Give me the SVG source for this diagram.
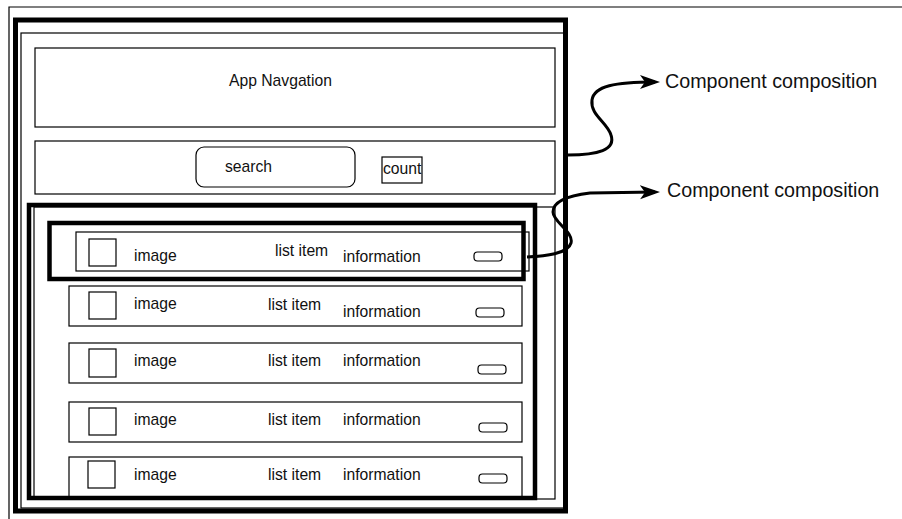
<svg xmlns="http://www.w3.org/2000/svg" width="902" height="519" viewBox="0 0 902 519">
<defs>
<style>
text{font-family:"Liberation Sans",Arial,Helvetica,sans-serif;fill:#111;}
.t{font-size:15.7px;}
.big{font-size:19.7px;}
.thin{fill:#fff;stroke:#000;stroke-width:1.2;}
.thinnf{fill:none;stroke:#000;stroke-width:1.2;}
.thick{fill:none;stroke:#000;stroke-width:5;}
.thick4{fill:none;stroke:#000;stroke-width:4.5;}
.sq{fill:#fff;stroke:#000;stroke-width:1.2;}
.btn{fill:#fff;stroke:#000;stroke-width:1.2;}
.conn{fill:none;stroke:#000;stroke-width:3;}
</style>
<marker id="arr" markerUnits="userSpaceOnUse" markerWidth="22" markerHeight="16" refX="15" refY="8" orient="auto">
<path d="M0,1 L20,8 L0,15 L5,8 Z" fill="#000"/>
</marker>
</defs>
<rect width="902" height="519" fill="#fff"/>
<g id="frame">
<path d="M9,519 L9,7 L902,7" class="thinnf"/>
<rect x="21" y="33" width="543" height="475" class="thinnf"/>
</g>
<g id="app-nav">
<rect x="35" y="48" width="520" height="79" class="thin"/>
<text x="229" y="86" class="t">App Navgation</text>
</g>
<g id="search-bar">
<rect x="35" y="141" width="520" height="53" class="thin"/>
<rect x="196" y="147" width="159" height="40" rx="8" class="thin"/>
<text x="225" y="172" class="t">search</text>
<rect x="382" y="157" width="40" height="26" class="thin"/>
<text x="383" y="174" class="t">count</text>
</g>
<g id="list-container">
<rect x="34" y="207" width="521" height="292" class="thinnf"/>
</g>
<g id="item-1">
<rect x="76" y="232" width="453" height="39" class="thin"/>
<rect x="89" y="239" width="27" height="27" class="sq"/>
<text x="134" y="261" class="t">image</text>
<text x="275" y="256" class="t">list item</text>
<text x="343" y="262" class="t">information</text>
<rect x="474" y="252" width="28" height="9" rx="3.5" class="btn"/>
</g>
<g id="item-2">
<rect x="69" y="286" width="453" height="40" class="thin"/>
<rect x="89" y="292" width="27" height="27" class="sq"/>
<text x="134" y="309" class="t">image</text>
<text x="268" y="310" class="t">list item</text>
<text x="343" y="317" class="t">information</text>
<rect x="476" y="308" width="28" height="9" rx="3.5" class="btn"/>
</g>
<g id="item-3">
<rect x="69" y="343" width="453" height="40" class="thin"/>
<rect x="89" y="349" width="27" height="28" class="sq"/>
<text x="134" y="366" class="t">image</text>
<text x="268" y="366" class="t">list item</text>
<text x="343" y="366" class="t">information</text>
<rect x="478" y="365" width="28" height="9" rx="3.5" class="btn"/>
</g>
<g id="item-4">
<rect x="69" y="402" width="453" height="40" class="thin"/>
<rect x="89" y="408" width="27" height="27" class="sq"/>
<text x="134" y="425" class="t">image</text>
<text x="268" y="425" class="t">list item</text>
<text x="343" y="425" class="t">information</text>
<rect x="479" y="423" width="28" height="9" rx="3.5" class="btn"/>
</g>
<g id="item-5">
<rect x="69" y="457" width="453" height="42" class="thin"/>
<rect x="88" y="461" width="27" height="27" class="sq"/>
<text x="134" y="480" class="t">image</text>
<text x="268" y="480" class="t">list item</text>
<text x="343" y="480" class="t">information</text>
<rect x="479" y="474" width="28" height="9" rx="3.5" class="btn"/>
</g>
<g id="highlights">
<rect x="49.5" y="223" width="474" height="56" class="thick4"/>
<rect x="29" y="205" width="506" height="293" class="thick4"/>
<rect x="15.5" y="20" width="550" height="491" class="thick"/>
</g>
<g id="connectors">
<path d="M568,155 C598,155 616,150 611,135 C607,122 590,115 592,100 C594,86 615,82 655,82" class="conn" marker-end="url(#arr)"/>
<path d="M527,257 C545,256 568,254 571,243 C574,232 553,222 553,212 C553,202 565,196 590,193 L655,192" class="conn" marker-end="url(#arr)"/>
</g>
<g id="labels">
<text x="665" y="88" class="big">Component composition</text>
<text x="667" y="197" class="big">Component composition</text>
</g>
</svg>
